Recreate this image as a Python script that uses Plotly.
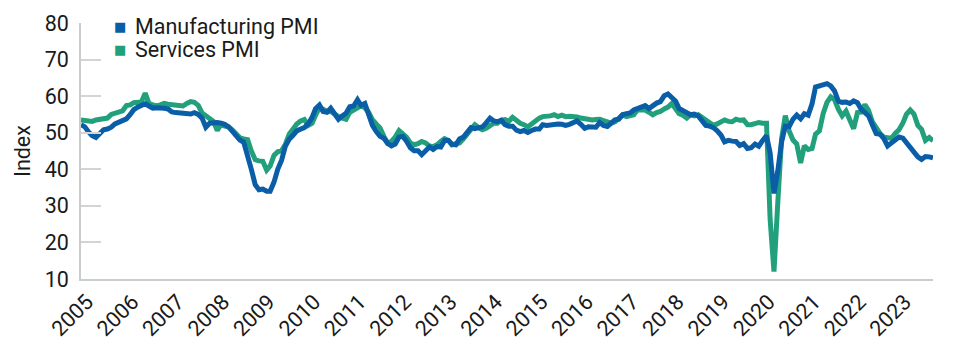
import pandas as pd
import plotly.graph_objects as go

# Monthly PMI readings, Jan 2005 - Oct 2023 (one row per year)
mfg_pmi = [
    52.2, 51.6, 50.3, 49.2, 48.7, 49.6, 50.8, 51.0, 51.5, 52.4, 53.0, 53.4,  # 2005
    53.8, 55.0, 56.3, 57.0, 57.4, 57.9, 57.3, 56.7, 56.8, 56.9, 56.7, 56.5,  # 2006
    55.7, 55.5, 55.4, 55.3, 55.2, 55.1, 55.5, 55.0, 54.0, 51.5, 52.6, 52.8,  # 2007
    52.8, 52.6, 52.3, 51.6, 50.3, 49.2, 48.0, 47.4, 44.0, 40.0, 35.8, 34.4,  # 2008
    34.6, 34.0, 34.0, 36.5, 40.0, 42.5, 46.3, 48.2, 49.3, 50.5, 51.0, 51.4,  # 2009
    52.4, 54.2, 56.6, 57.6, 55.8, 55.6, 56.7, 55.1, 53.7, 54.6, 55.3, 57.1,  # 2010
    57.3, 59.0, 57.5, 58.0, 54.6, 52.0, 50.4, 49.0, 48.5, 47.1, 46.4, 46.9,  # 2011
    48.8, 49.0, 47.7, 45.9, 45.1, 45.1, 44.0, 45.1, 46.1, 45.4, 46.2, 46.1,  # 2012
    47.9, 47.9, 46.8, 46.7, 48.3, 48.8, 50.3, 51.4, 51.1, 51.3, 51.6, 52.7,  # 2013
    54.0, 53.2, 53.0, 53.4, 52.2, 51.8, 51.8, 50.7, 50.3, 50.6, 50.1, 50.6,  # 2014
    51.0, 51.0, 52.2, 52.0, 52.2, 52.5, 52.4, 52.3, 52.0, 52.3, 52.8, 53.2,  # 2015
    52.3, 51.2, 51.6, 51.7, 51.5, 52.8, 52.0, 51.7, 52.6, 53.5, 53.7, 54.9,  # 2016
    55.2, 55.4, 56.2, 56.7, 57.0, 57.4, 56.6, 57.4, 58.1, 58.5, 60.1, 60.6,  # 2017
    59.6, 58.6, 56.6, 56.2, 55.5, 54.9, 55.1, 54.6, 53.2, 52.0, 51.8, 51.4,  # 2018
    50.5, 49.3, 47.5, 47.9, 47.7, 47.6, 46.5, 47.0, 45.7, 45.9, 46.9, 46.3,  # 2019
    47.9, 49.2, 44.5, 33.4, 39.4, 47.4, 51.8, 51.7, 53.7, 54.8, 53.8, 55.2,  # 2020
    54.8, 57.9, 62.5, 62.9, 63.1, 63.4, 62.8, 61.4, 58.6, 58.3, 58.4, 58.0,  # 2021
    58.7, 58.2, 56.5, 55.5, 54.6, 52.1, 49.8, 49.6, 48.4, 46.4, 47.1, 47.8,  # 2022
    48.8, 48.5, 47.3, 45.8, 44.8, 43.4, 42.7, 43.5, 43.4, 43.1,              # 2023
]

svc_pmi = [
    53.5, 53.3, 53.0, 53.1, 53.5, 53.6, 53.7, 54.0, 55.0, 55.3, 55.8, 56.0,  # 2005
    57.4, 57.6, 58.2, 58.3, 58.4, 60.8, 58.0, 57.6, 57.3, 57.6, 58.0, 57.8,  # 2006
    57.7, 57.6, 57.4, 57.3, 58.0, 58.5, 58.3, 57.5, 55.4, 54.6, 54.2, 53.1,  # 2007
    50.6, 52.3, 51.8, 51.6, 50.8, 49.8, 48.6, 48.3, 48.1, 45.0, 42.6, 42.3,  # 2008
    42.2, 39.8, 40.9, 43.8, 44.8, 45.1, 46.8, 49.6, 51.0, 52.4, 53.2, 53.6,  # 2009
    52.0, 52.6, 54.8, 56.8, 56.4, 55.8, 55.8, 55.0, 54.4, 54.0, 53.7, 55.6,  # 2010
    56.4, 56.8, 57.4, 56.8, 55.6, 53.6, 52.4, 51.3, 49.0, 47.2, 47.6, 48.8,  # 2011
    50.6, 49.6, 48.8, 47.2, 46.7, 47.0, 47.6, 47.2, 46.4, 46.2, 46.7, 47.6,  # 2012
    48.4, 47.9, 46.7, 47.0, 47.2, 48.3, 49.5, 50.8, 52.2, 51.4, 50.8, 51.2,  # 2013
    51.8, 52.6, 52.6, 53.4, 53.6, 53.1, 54.2, 53.2, 52.6, 52.2, 51.6, 52.4,  # 2014
    53.4, 54.0, 54.4, 54.4, 54.6, 54.9, 54.4, 54.8, 54.4, 54.5, 54.5, 54.3,  # 2015
    54.0, 53.8, 53.5, 53.5, 53.6, 53.7, 53.3, 53.1, 52.6, 53.0, 54.0, 54.9,  # 2016
    54.4, 54.6, 54.9, 56.3, 56.4, 56.2, 55.6, 54.9, 55.5, 55.8, 56.5, 57.0,  # 2017
    58.0, 56.5, 55.2, 54.8, 54.0, 54.9, 54.6, 54.9, 54.2, 53.6, 53.0, 52.0,  # 2018
    52.4, 53.1, 53.5, 53.1, 53.0, 53.7, 53.4, 53.5, 52.2, 52.2, 52.4, 52.8,  # 2019
    52.6, 52.6, 26.4, 12.0, 30.5, 48.3, 54.7, 50.5, 48.0, 46.9, 41.7, 46.4,  # 2020
    45.4, 45.7, 49.6, 50.5, 55.2, 58.3, 59.8, 59.0, 56.4, 54.6, 55.9, 53.1,  # 2021
    51.1, 55.5, 55.6, 57.7, 56.1, 53.0, 51.2, 49.8, 48.8, 48.6, 48.5, 49.8,  # 2022
    50.8, 52.7, 55.0, 56.2, 55.1, 52.0, 50.9, 47.9, 48.7, 47.8,              # 2023
]

series_names = ["Manufacturing PMI", "Services PMI"]

months = pd.date_range("2005-01-01", periods=len(mfg_pmi), freq="MS")
years = list(range(2005, 2024))
tick_dates = [pd.Timestamp(f"{y}-01-01") for y in years]
tick_labels = [str(y) for y in years]

BLUE = "#0A5EA8"
GREEN = "#22A07B"
INK = "#1a1a1a"
FONT = "Roboto, Arial, sans-serif"
FS = 21.5

fig = go.Figure()

# Lines (services underneath, manufacturing on top)
fig.add_trace(go.Scatter(x=months, y=svc_pmi, mode="lines", name=series_names[1],
                         line=dict(color=GREEN, width=5), showlegend=False))
fig.add_trace(go.Scatter(x=months, y=mfg_pmi, mode="lines", name=series_names[0],
                         line=dict(color=BLUE, width=5), showlegend=False))

# Compact legend: square swatch + label, stacked in the top-left corner
legend_rows = [(series_names[0], BLUE, 0.988), (series_names[1], GREEN, 0.896)]
for name, col, ypos in legend_rows:
    fig.add_annotation(xref="paper", yref="paper", x=0.036, y=ypos,
                       xanchor="left", yanchor="middle", showarrow=False,
                       text="■", font=dict(family="DejaVu Sans", size=13, color=col))
    fig.add_annotation(xref="paper", yref="paper", x=0.0605, y=ypos,
                       xanchor="left", yanchor="middle", showarrow=False,
                       text=name, font=dict(family=FONT, size=FS, color=INK))

fig.update_layout(
    width=960, height=345,
    margin=dict(l=81, r=27, t=23, b=66),
    paper_bgcolor="white", plot_bgcolor="white",
    font=dict(family=FONT, size=FS, color=INK),
    showlegend=False,
)

fig.update_xaxes(
    range=[months[0], months[-1]],
    tickmode="array", tickvals=tick_dates, ticktext=tick_labels,
    tickangle=-45, ticks="", showgrid=False,
    ticklabelshift=6, automargin=False,
    showline=True, linecolor="#c9cdcd", linewidth=1.5,
    tickfont=dict(size=FS),
)
fig.update_yaxes(
    range=[10, 80], tickvals=list(range(10, 81, 10)),
    showgrid=False, ticks="inside", ticklen=20, tickcolor="#d4d4d4", tickwidth=1.5,
    ticklabelstandoff=6, automargin=False,
    showline=True, linecolor="#c9cdcd", linewidth=1.5,
    zeroline=False,
    title=dict(text="Index", font=dict(size=FS), standoff=8),
    tickfont=dict(size=FS),
)

fig.write_html("out.html")
